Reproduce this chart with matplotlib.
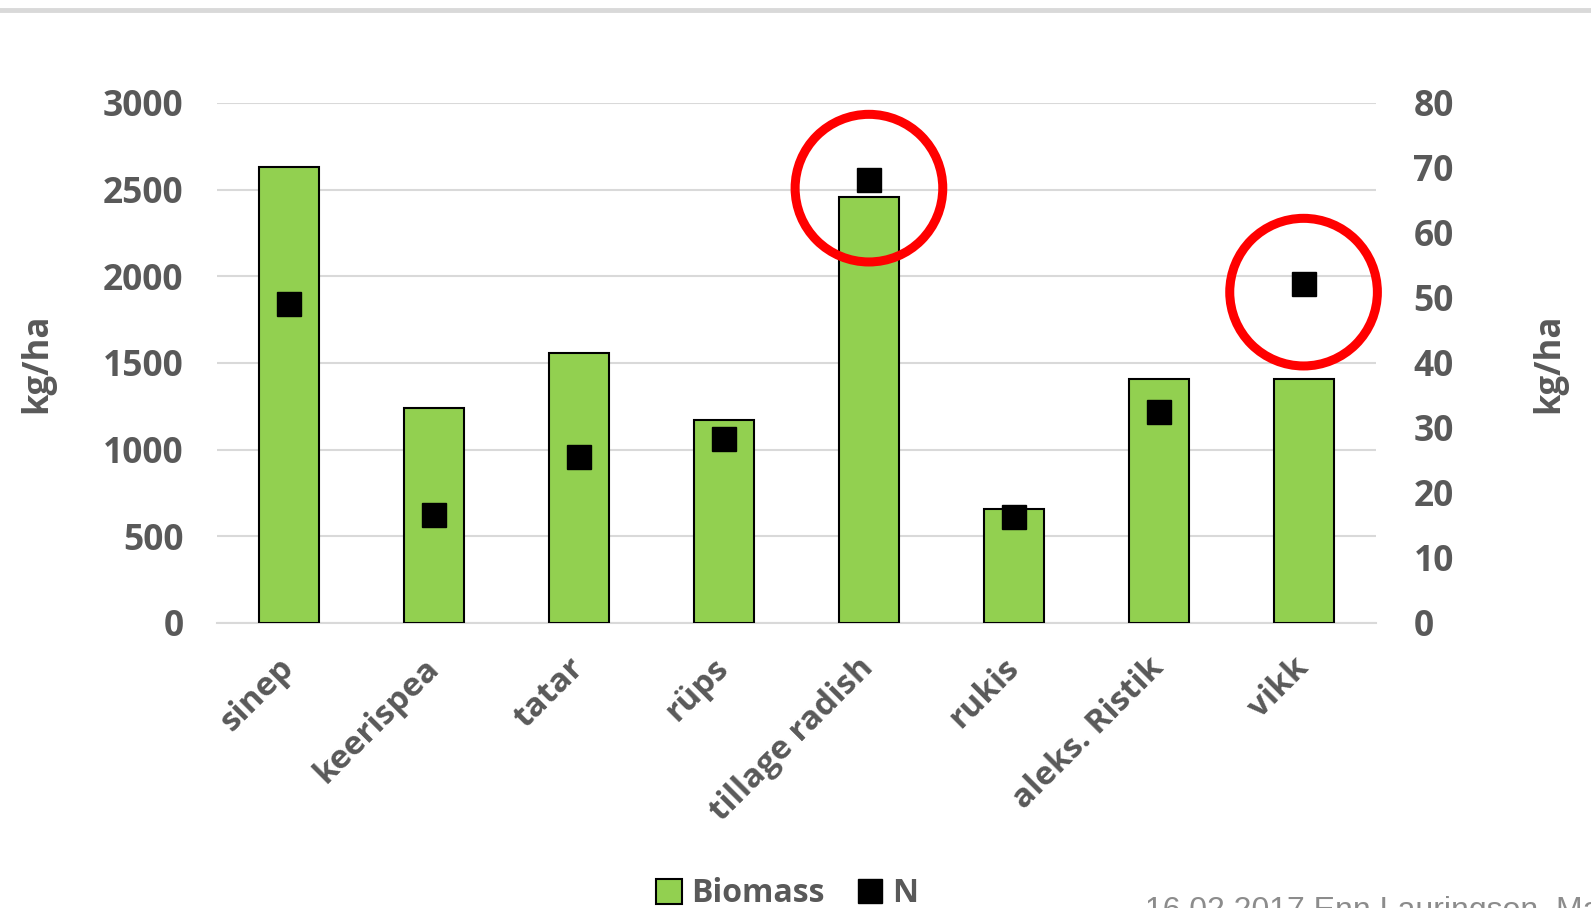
import matplotlib.pyplot as plt
from matplotlib.lines import Line2D

# chart data
crops = ['sinep', 'keerispea', 'tatar', 'rüps', 'tillage radish', 'rukis', 'aleks. Ristik', 'vikk']
biomass = [2630, 1240, 1560, 1170, 2460, 660, 1410, 1410]
nitrogen = [49.1, 16.6, 25.6, 28.3, 68.1, 16.3, 32.5, 52.1]
left_ticks = [0, 500, 1000, 1500, 2000, 2500, 3000]
right_ticks = [0, 10, 20, 30, 40, 50, 60, 70, 80]
# red circles around two N points (crop index, circle centre on N axis)
circled = [4, 7]
circle_y = [66.9, 50.9]

grey = '#595959'
plt.rcParams['font.family'] = ['Open Sans', 'DejaVu Sans']

W, H = 1591, 908
fig = plt.figure(figsize=(W / 100, H / 100), dpi=100)
ax = fig.add_axes([217 / W, 1 - 623 / H, (1376 - 217) / W, (623 - 103) / H])
ax2 = ax.twinx()

x = list(range(len(crops)))
ax.bar(x, biomass, width=0.414, color='#92d050', edgecolor='black', linewidth=1.5,
       label='Biomass', zorder=3)
ax.set_xlim(-0.5, len(crops) - 0.5)
ax.set_ylim(0, 3000)
ax.set_yticks(left_ticks)
ax.grid(axis='y', color='#d9d9d9', linewidth=1.5, zorder=0)
ax.set_axisbelow(True)

ax2.plot(x, nitrogen, linestyle='none', marker='s', markersize=17.5, color='black',
         label='N', zorder=4)
ax2.scatter(circled, circle_y, s=11300, facecolors='none', edgecolors='#ff0000',
            linewidths=6.5, zorder=5, clip_on=False)
ax2.set_ylim(0, 80)
ax2.set_yticks(right_ticks)

for a in (ax, ax2):
    for s in a.spines.values():
        s.set_visible(False)
ax.spines['bottom'].set_visible(True)
ax.spines['bottom'].set_color('#d9d9d9')
ax.spines['bottom'].set_linewidth(1.5)

ax.tick_params(axis='y', length=0, pad=24, labelsize=25.5, labelcolor=grey)
ax2.tick_params(axis='y', length=0, pad=27, labelsize=25.5, labelcolor=grey)
for lab in ax.get_yticklabels() + ax2.get_yticklabels():
    lab.set_fontweight('bold')

ax.set_xticks(x)
ax.set_xticklabels(crops, rotation=45, ha='right', va='center', rotation_mode='anchor',
                   fontsize=24, fontweight='bold', color=grey)
ax.tick_params(axis='x', length=0, pad=29)

ax.set_ylabel('kg/ha', fontsize=25, fontweight='bold', color=grey, labelpad=34)
ax2.set_ylabel('kg/ha', fontsize=25, fontweight='bold', color=grey, labelpad=56)

h1, l1 = ax.get_legend_handles_labels()
h2, l2 = ax2.get_legend_handles_labels()
fig.legend(h1 + h2, l1 + l2, loc='center', bbox_to_anchor=(787 / W, 1 - 894 / H),
           ncol=2, frameon=False, handlelength=0.8, handleheight=0.8, handletextpad=0.3,
           columnspacing=1.0, borderpad=0, prop={'size': 23, 'weight': 'bold'},
           labelcolor=grey)

# slide decorations
fig.add_artist(Line2D([0, 1], [1 - 9.5 / H, 1 - 9.5 / H], color='#d9d9d9', linewidth=3.5,
                      transform=fig.transFigure))
fig.text(1145 / W, 1 - 919 / H, '16.02.2017 Enn Lauringson, Maaülikool',
         fontsize=23, color='#8c8c8c', family='Liberation Sans', va='baseline', ha='left')

fig.savefig('out.png', dpi=100)
